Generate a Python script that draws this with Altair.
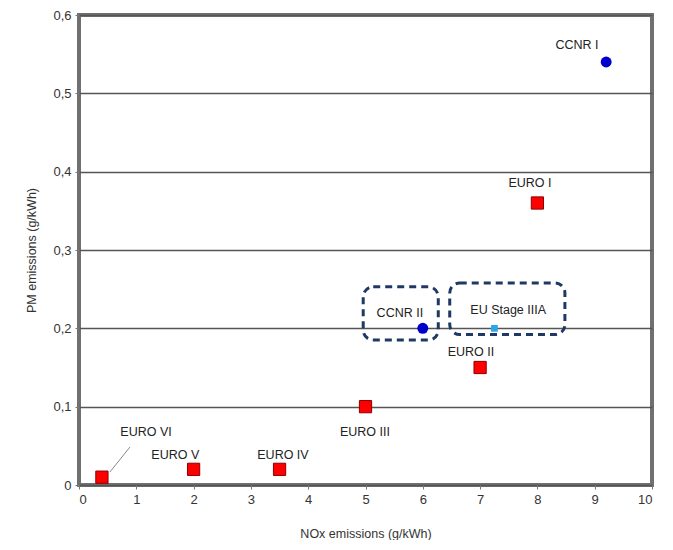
import altair as alt
import pandas as pd

# Data points
names = ["CCNR I", "EURO I", "CCNR II", "EU Stage IIIA", "EURO II", "EURO III", "EURO IV", "EURO V", "EURO VI"]
nox = [9.2, 8.0, 6.0, 7.25, 7.0, 5.0, 3.5, 2.0, 0.4]
pm = [0.54, 0.36, 0.20, 0.20, 0.15, 0.10, 0.02, 0.02, 0.01]
group = ["CCNR", "EURO", "CCNR", "EU", "EURO", "EURO", "EURO", "EURO", "EURO"]

# Label anchor positions (data units)
label_x = [8.69, 7.87, 5.60, 7.49, 6.84, 4.99, 3.56, 1.68, 1.17]
label_y = [0.562, 0.386, 0.220, 0.223, 0.170, 0.068, 0.038, 0.038, 0.068]

# Dashed annotation boxes (data units)
box_x1 = [4.96, 6.47]
box_x2 = [6.27, 8.48]
box_y1 = [0.185, 0.192]
box_y2 = [0.253, 0.258]

# Leader line for EURO VI
lead_x = [0.54, 0.89]
lead_y = [0.0166, 0.0485]

pts = pd.DataFrame({"name": names, "nox": nox, "pm": pm, "group": group})
lbl = pd.DataFrame({"name": names, "lx": label_x, "ly": label_y})
boxes = pd.DataFrame({"x1": box_x1, "x2": box_x2, "y1": box_y1, "y2": box_y2})
lead = pd.DataFrame({"x": lead_x, "y": lead_y, "o": [0, 1]})

FONT = "Liberation Sans"

xs = alt.Scale(domain=[0, 10], nice=False, zero=True)
ys = alt.Scale(domain=[0, 0.6], nice=False)

xenc = alt.X("nox:Q", scale=xs, title="NOx emissions (g/kWh)",
             axis=alt.Axis(values=list(range(11)), format="d", grid=False, domain=False,
                           ticks=True, tickSize=4, tickColor="#777", labelPadding=4,
                           labelFontSize=13, labelColor="#333", labelFont=FONT,
                           titleFont=FONT, titleFontSize=12.5, titleFontWeight="normal",
                           titleColor="#333", titlePadding=21))
yenc = alt.Y("pm:Q", scale=ys, title="PM emissions (g/kWh)",
             axis=alt.Axis(values=[0, 0.1, 0.2, 0.3, 0.4, 0.5, 0.6], grid=True,
                           gridColor="#555", gridWidth=1.6, domain=False,
                           ticks=True, tickSize=4, tickColor="#777", labelPadding=4,
                           labelExpr="datum.value == 0 ? '0' : replace(format(datum.value, '.1f'), '.', ',')",
                           labelFontSize=13, labelColor="#333", labelFont=FONT,
                           titleFont=FONT, titleFontSize=12.5, titleFontWeight="normal",
                           titleColor="#333", titlePadding=14))

base_axes = alt.Chart(pts).mark_point(opacity=0).encode(x=xenc, y=yenc)

box_layer = alt.Chart(boxes).mark_rect(
    fill=None, stroke="#1f3864", strokeWidth=3, strokeDash=[7, 5], cornerRadius=10
).encode(x=alt.X("x1:Q", scale=xs), x2="x2:Q", y=alt.Y("y1:Q", scale=ys), y2="y2:Q")

lead_layer = alt.Chart(lead).mark_line(color="#888", strokeWidth=1).encode(
    x=alt.X("x:Q", scale=xs), y=alt.Y("y:Q", scale=ys), order="o:Q")

euro = alt.Chart(pts).transform_filter("datum.group == 'EURO'").mark_square(
    size=150, color="#ff0000", stroke="#8b0000", strokeWidth=1, opacity=1
).encode(x=alt.X("nox:Q", scale=xs), y=alt.Y("pm:Q", scale=ys))

ccnr = alt.Chart(pts).transform_filter("datum.group == 'CCNR'").mark_circle(
    size=120, color="#0000cc", opacity=1
).encode(x=alt.X("nox:Q", scale=xs), y=alt.Y("pm:Q", scale=ys))

eu = alt.Chart(pts).transform_filter("datum.group == 'EU'").mark_square(
    size=45, color="#2aa6e6", opacity=1
).encode(x=alt.X("nox:Q", scale=xs), y=alt.Y("pm:Q", scale=ys))

labels = alt.Chart(lbl).mark_text(
    font=FONT, fontSize=12.5, color="#222", align="center", baseline="middle"
).encode(x=alt.X("lx:Q", scale=xs), y=alt.Y("ly:Q", scale=ys), text="name:N")

chart = alt.layer(base_axes, box_layer, lead_layer, euro, ccnr, eu, labels).properties(
    width=573, height=470,
    autosize=alt.AutoSizeParams(type="none"),
    padding={"left": 71, "top": 7, "right": 13, "bottom": 55},
    background="white",
).configure_view(stroke="#707070", strokeWidth=4)

chart.save("out.html", embed_options={"renderer": "svg", "actions": False})
